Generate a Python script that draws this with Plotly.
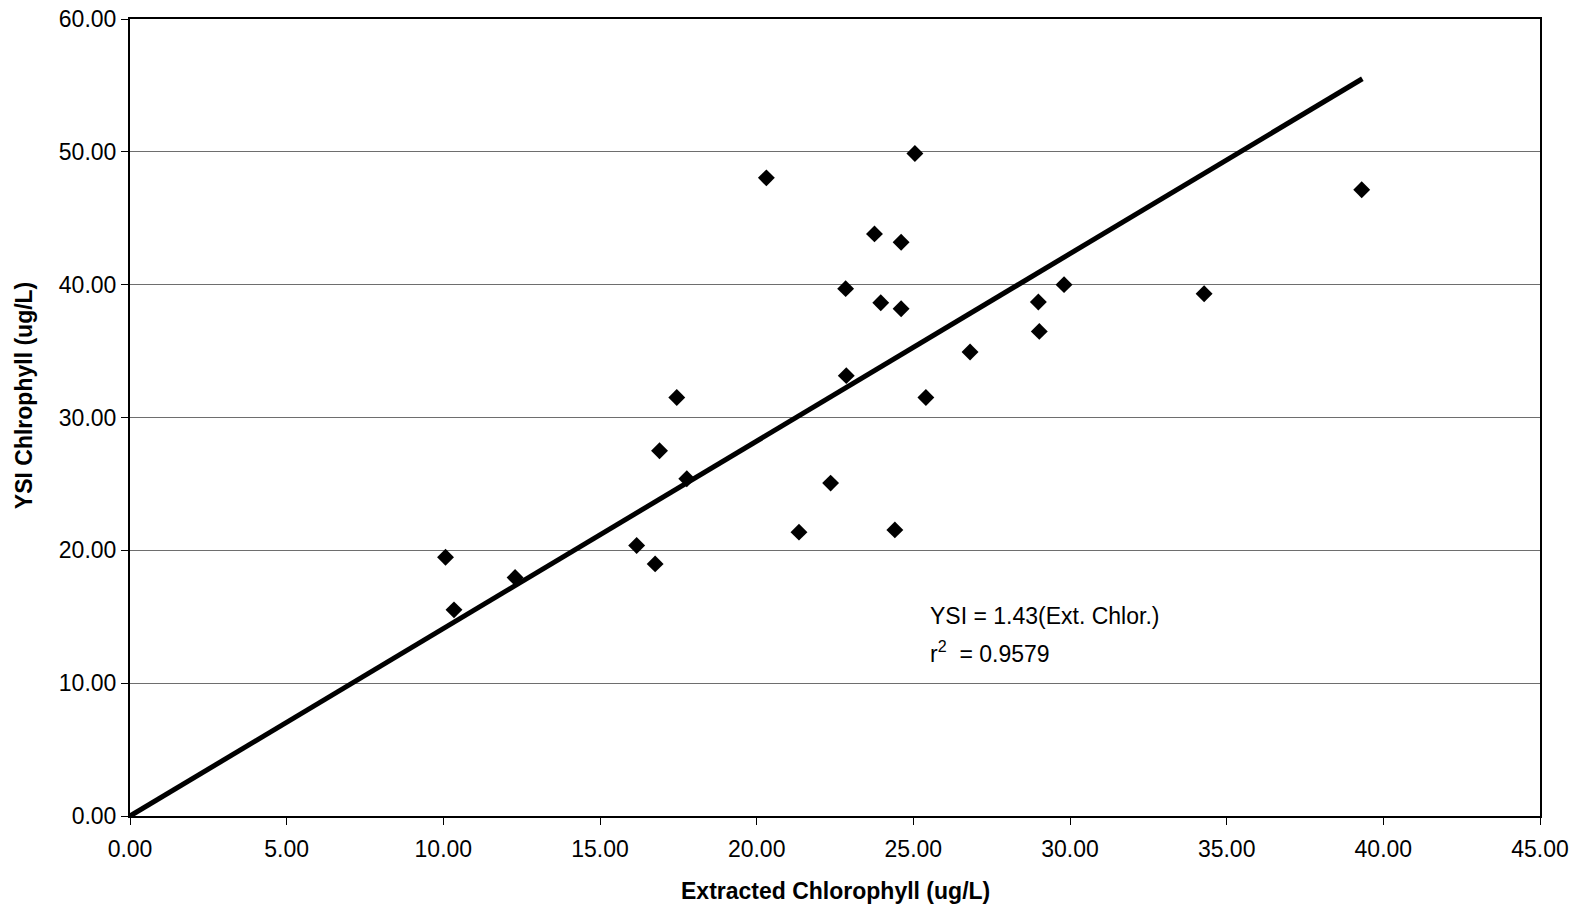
import plotly.graph_objects as go

# Data
extracted = [10.07, 10.34, 12.29, 16.17, 16.76, 16.90, 17.45, 17.77, 20.31, 21.35,
             22.36, 22.84, 22.86, 23.76, 23.96, 24.41, 24.61, 24.61, 25.05, 25.40,
             26.81, 28.99, 29.02, 29.81, 34.28, 39.31]
ysi = [19.48, 15.52, 17.95, 20.36, 18.98, 27.50, 31.51, 25.39, 48.04, 21.37,
       25.06, 39.70, 33.15, 43.82, 38.64, 21.54, 43.19, 38.19, 49.87, 31.51,
       34.93, 38.70, 36.48, 40.00, 39.32, 47.15]
trend_x = [0.0, 39.33]
trend_y = [0.0, 55.5]

x_ticks = [0, 5, 10, 15, 20, 25, 30, 35, 40, 45]
y_ticks = [0, 10, 20, 30, 40, 50, 60]

FONT = "Liberation Sans, Arial, sans-serif"

fig = go.Figure()
fig.add_trace(go.Scatter(x=trend_x, y=trend_y, mode="lines",
                         line=dict(color="black", width=5), hoverinfo="skip",
                         showlegend=False))
fig.add_trace(go.Scatter(x=extracted, y=ysi, mode="markers",
                         marker=dict(symbol="diamond", size=13, color="black"),
                         showlegend=False))

fig.update_layout(
    width=1587, height=910,
    margin=dict(l=130, r=47, t=19, b=94, autoexpand=False),
    plot_bgcolor="white", paper_bgcolor="white",
    font=dict(family=FONT, size=23, color="black"),
    xaxis=dict(range=[0, 45], tickvals=x_ticks, tickformat=".2f",
               showgrid=False, zeroline=False, automargin=False,
               showline=True, linecolor="black", linewidth=2, mirror=True,
               ticks="outside", ticklen=7, tickwidth=1, tickcolor="black",
               ticklabelstandoff=4,
               tickfont=dict(size=23)),
    yaxis=dict(range=[0, 60], tickvals=y_ticks, tickformat=".2f",
               showgrid=True, gridcolor="#6e6e6e", gridwidth=1, zeroline=False,
               automargin=False,
               showline=True, linecolor="black", linewidth=2, mirror=True,
               ticks="outside", ticklen=7, tickwidth=1, tickcolor="black",
               tickfont=dict(size=23)),
    annotations=[
        dict(text="<b>Extracted Chlorophyll (ug/L)</b>", xref="paper", yref="paper",
             x=0.5, y=-0.094, xanchor="center", yanchor="middle", showarrow=False,
             font=dict(size=23)),
        dict(text="<b>YSI Chlrophyll (ug/L)</b>", xref="paper", yref="paper",
             x=-0.0752, y=0.528, xanchor="center", yanchor="middle", showarrow=False,
             textangle=-90, font=dict(size=23)),
        dict(text="YSI = 1.43(Ext. Chlor.)", xref="paper", yref="paper",
             x=0.566, y=0.251, xanchor="left", yanchor="middle", showarrow=False,
             font=dict(size=23)),
        dict(text="r<sup>2</sup>  = 0.9579", xref="paper", yref="paper",
             x=0.566, y=0.206, xanchor="left", yanchor="middle", showarrow=False,
             font=dict(size=23)),
    ],
)

fig.write_html("out.html")
